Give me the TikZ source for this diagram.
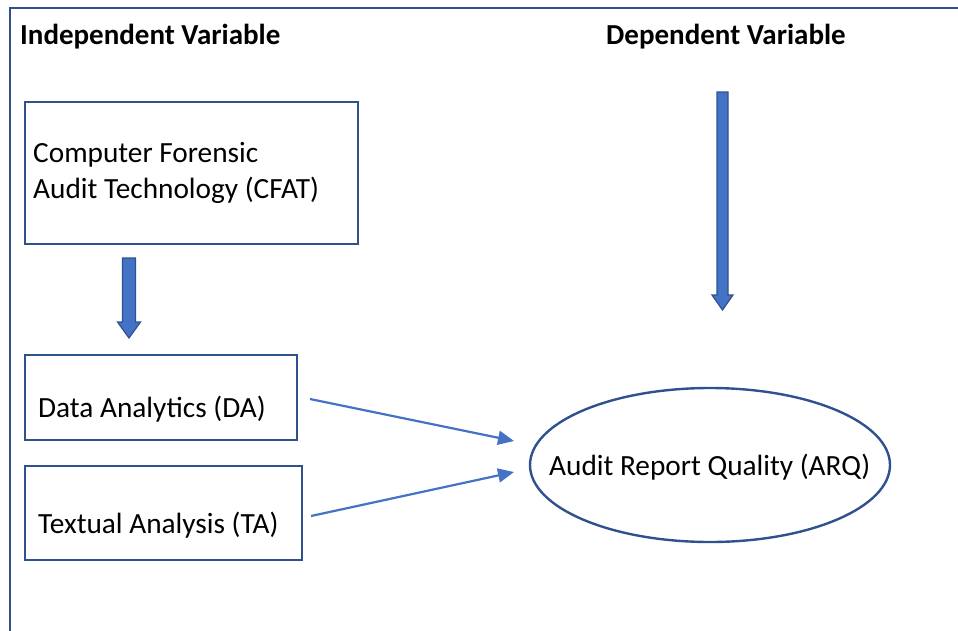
\documentclass[tikz,border=0pt]{standalone}
\usepackage{fontspec}
\setmainfont{Carlito}
\usetikzlibrary{arrows.meta}
\definecolor{boxblue}{HTML}{2F528F}
\definecolor{arrblue}{HTML}{4472C4}
\newcommand{\myblockarrow}[6]{% x, ytop, ytip, shaft half, head half, head len
  \fill[arrblue,draw=boxblue,line width=1.2pt,line join=miter]
    ({#1-#4},{-#2}) -- ({#1+#4},{-#2}) -- ({#1+#4},{-(#3-#6)}) -- ({#1+#5},{-(#3-#6)})
    -- ({#1},{-#3}) -- ({#1-#5},{-(#3-#6)}) -- ({#1-#4},{-(#3-#6)}) -- cycle;}
\begin{document}
\begin{tikzpicture}[x=1pt,y=1pt,
  frame/.style={draw=boxblue,line width=2.4pt},
  varbox/.style={draw=boxblue,line width=2.4pt,fill=white},
  title/.style={font=\fontsize{29}{34}\selectfont\bfseries,inner sep=0pt,anchor=west},
  label/.style={font=\fontsize{29.3}{36}\selectfont,inner sep=0pt,anchor=west,align=left},
  thin/.style={draw=arrblue,line width=2.2pt,-{Triangle[length=16pt,width=14pt]}}]
\useasboundingbox (0,0) rectangle (958,-630);
\draw[frame] (10,-632) -- (10,-8) -- (960,-8);
\node[title] (indep) at (20,-37) {Independent Variable};
\node[title] (dep) at (606,-37) {Dependent Variable};
% boxes
\draw[varbox] (25,-102) rectangle (358,-244);
\node[label] (cfatt) at (33,-173) {Computer Forensic\\Audit Technology (CFAT)};
\draw[varbox] (25,-355) rectangle (297,-440);
\node[label] (da) at (38,-409) {Data Analytics (DA)};
\draw[varbox] (25,-466) rectangle (302,-560);
\node[label] (ta) at (38,-525) {Textual Analysis (TA)};
\draw[varbox] (710,-465) ellipse [x radius=180,y radius=77];
\node[label] (arq) at (549,-467) {Audit Report Quality (ARQ)};
% block arrows
\myblockarrow{129}{258}{338}{6.5}{11.5}{16}
\myblockarrow{722.5}{92}{310}{5.5}{10.5}{15}
% thin arrows
\coordinate (daS) at (310,-399);
\coordinate (daE) at (514,-441);
\coordinate (taS) at (311,-516);
\coordinate (taE) at (514,-472);
\draw[thin] (daS) -- (daE);
\draw[thin] (taS) -- (taE);
\end{tikzpicture}
\end{document}
